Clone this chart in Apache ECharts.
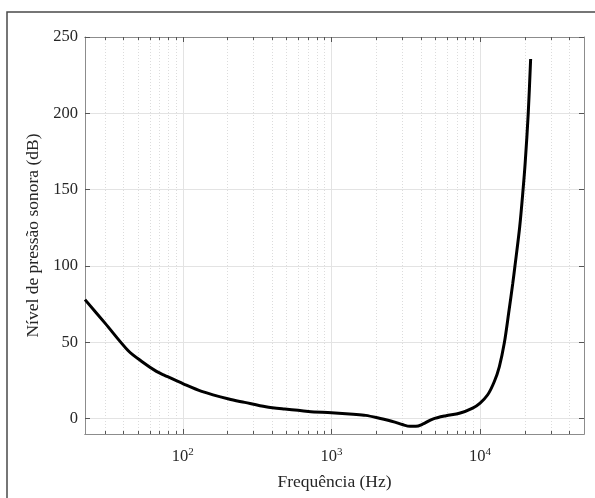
<!DOCTYPE html>
<html>
<head>
<meta charset="utf-8">
<script src="https://cdn.jsdelivr.net/npm/echarts@6/dist/echarts.min.js"></script>
<style>
html,body{margin:0;padding:0;background:#fff;}
#chart{width:595px;height:498px;}
</style>
</head>
<body>
<div id="chart"></div>
<script>
// Data (frequency in Hz, sound pressure level in dB)
const freqs = [22, 30, 43, 53, 66.5, 76, 101.6, 134, 204, 261, 362, 485, 700, 1000, 1400, 1700, 2100, 2670, 3000, 3380, 3700, 4100, 4800, 5900, 7260, 8910, 10000, 11250, 12470, 13480, 14560, 15570, 16570, 17160, 18480, 19470, 20120, 21080, 21880];
const levels = [78, 62.6, 44.5, 37.5, 31, 28.3, 22.7, 17.9, 12.9, 10.7, 7.8, 6.3, 4.8, 3.9, 2.9, 2.2, 0.3, -2.2, -3.8, -5, -5, -3.6, -0.2, 2.0, 3.6, 7, 10.3, 15.7, 24.4, 34.2, 49.7, 69.2, 88.3, 100, 125.9, 150.3, 168, 200, 235.6];
const xMajorTicks = [100, 1000, 10000];
const xMinorTicks = [30, 40, 50, 60, 70, 80, 90, 200, 300, 400, 500, 600, 700, 800, 900, 2000, 3000, 4000, 5000, 6000, 7000, 8000, 9000, 20000, 30000, 40000];
const yTicks = [0, 50, 100, 150, 200, 250];
const xTitle = 'Frequência (Hz)';
const yTitle = 'Nível de pressão sonora (dB)';

const FONT = 'Liberation Serif';
const TXT = '#262626';
const AXC = '#8c8c8c';
const X_MIN = 22, X_MAX = 50000, Y_MIN = -10, Y_MAX = 250;

const chart = echarts.init(document.getElementById('chart'), null, {renderer: 'canvas'});

function logAxis(pos, major, showLabel) {
  const ax = {
    type: 'log', logBase: 10, min: X_MIN, max: X_MAX, position: pos,
    axisLine: {show: true, onZero: false, lineStyle: {color: AXC, width: 1}},
    axisTick: {show: true, inside: true, length: major ? 5 : 3,
      customValues: major ? xMajorTicks : xMinorTicks,
      lineStyle: {color: '#555', width: 1}},
    axisLabel: {show: false},
    splitLine: {show: false},
    minorTick: {show: false}, minorSplitLine: {show: false}
  };
  if (showLabel) {
    ax.axisLabel = {
      show: true, customValues: xMajorTicks, margin: 13,
      formatter: function (v) {
        const e = Math.round(Math.log10(v));
        return '{b|10}{s|' + e + '}';
      },
      rich: {
        b: {fontFamily: FONT, fontSize: 16.5, color: TXT},
        s: {fontFamily: FONT, fontSize: 11, color: TXT, padding: [0, 0, 9, 0]}
      }
    };
    ax.name = xTitle;
    ax.nameLocation = 'middle';
    ax.nameGap = 39;
    ax.nameTextStyle = {fontFamily: FONT, fontSize: 17.5, color: TXT};
  }
  if (pos === 'bottom') {
    ax.splitLine = major
      ? {show: true, lineStyle: {color: '#e3e3e3', width: 1, type: 'solid'}}
      : {show: true, lineStyle: {color: '#dcdcdc', width: 1, type: [1, 2]}};
  }
  return ax;
}

const option = {
  backgroundColor: '#fff',
  animation: false,
  grid: {left: 85, right: 11, top: 37, bottom: 64, containLabel: false},
  graphic: [{
    type: 'rect', silent: true, z: 100,
    shape: {x: 7, y: 12, width: 620, height: 520},
    style: {fill: 'none', stroke: '#4a4a4a', lineWidth: 1.5}
  }],
  xAxis: [
    logAxis('bottom', true, true),
    logAxis('bottom', false, false),
    logAxis('top', true, false),
    logAxis('top', false, false)
  ],
  yAxis: [
    {
      type: 'value', min: Y_MIN, max: Y_MAX, position: 'left',
      axisLine: {show: true, onZero: false, lineStyle: {color: AXC, width: 1}},
      axisTick: {show: true, inside: true, length: 5, customValues: yTicks, lineStyle: {color: '#555'}},
      axisLabel: {show: true, customValues: yTicks, margin: 7, fontFamily: FONT, fontSize: 16.5, color: TXT},
      splitLine: {show: true, lineStyle: {color: '#e3e3e3', width: 1}},
      name: yTitle, nameLocation: 'middle', nameGap: 43,
      nameTextStyle: {fontFamily: FONT, fontSize: 17.5, color: TXT}
    },
    {
      type: 'value', min: Y_MIN, max: Y_MAX, position: 'right',
      axisLine: {show: true, onZero: false, lineStyle: {color: AXC, width: 1}},
      axisTick: {show: true, inside: true, length: 5, customValues: yTicks, lineStyle: {color: '#555'}},
      axisLabel: {show: false},
      splitLine: {show: false}
    }
  ],
  series: [{
    type: 'line',
    xAxisIndex: 0, yAxisIndex: 0,
    data: freqs.map((f, i) => [f, levels[i]]),
    showSymbol: false,
    smooth: 0.3,
    lineStyle: {color: '#000', width: 3},
    z: 5
  }]
};
chart.setOption(option);
</script>
</body>
</html>
